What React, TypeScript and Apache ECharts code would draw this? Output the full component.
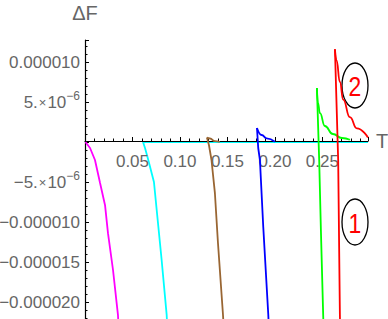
import React, { useEffect, useRef } from "react";
import * as echarts from "echarts";

// ΔF values are in units of 1e-6; each curve = steep branch below the peak + decaying tail
const SCALE = 1e-6;
const magentaDrop: [number, number][] = [[0.0005, 0], [0.0053, -0.75], [0.0105, -2.25], [0.0158, -5.1], [0.0211, -7.9], [0.0242, -11.4], [0.0295, -16], [0.0347, -21.6], [0.0353, -22.9]];
const cyanDrop: [number, number][] = [[0.298, 0], [0.0611, 0], [0.0632, -0.75], [0.0663, -2.1], [0.0726, -5], [0.0755, -8.5], [0.0807, -14.75], [0.086, -21.6], [0.0865, -22.9]];
const brownDrop: [number, number][] = [[0.1459, -22.9], [0.1453, -21.6], [0.14, -12.6], [0.1368, -6.4], [0.1332, -2.25], [0.1305, -0.375], [0.1284, 0.56]];
const brownTail: [number, number][] = [[0.1284, 0.56], [0.1316, 0.44], [0.1368, 0.12], [0.142, 0]];
const blueDrop: [number, number][] = [[0.1935, -22.9], [0.193, -21.6], [0.1877, -10.6], [0.1842, -2.25], [0.1824, -0.75], [0.1811, 1.75]];
const blueTail: [number, number][] = [[0.1811, 1.75], [0.186, 0.875], [0.1913, 0.46], [0.2, 0.04]];
const greenDrop: [number, number][] = [[0.2511, -22.9], [0.2508, -21.6], [0.2484, -11], [0.2466, -2.25], [0.2442, 6.75]];
const greenTail: [number, number][] = [[0.2442, 6.75], [0.2453, 4.9], [0.2474, 3.6], [0.2526, 2.0], [0.261, 1.0], [0.2705, 0.5], [0.279, 0.28]];
const redDrop: [number, number][] = [[0.2686, -22.9], [0.2684, -21.6], [0.2666, -2.25], [0.2632, 11.6]];
const redTail: [number, number][] = [[0.2632, 11.6], [0.2649, 10.2], [0.2684, 7.5], [0.2719, 5.3], [0.2789, 3.1], [0.2863, 1.7], [0.2979, 0.56]];

const MAGENTA = "#ff00ff";
const CYAN = "#00ffff";
const BROWN = "#996633";
const BLUE = "#0000ff";
const GREEN = "#00ff00";
const RED = "#ff0000";

const curves = [
  { data: magentaDrop, color: MAGENTA, z: 3, smooth: false },
  { data: cyanDrop, color: CYAN, z: 1, smooth: false },
  { data: brownDrop, color: BROWN, z: 3, smooth: false },
  { data: brownTail, color: BROWN, z: 3, smooth: true },
  { data: blueDrop, color: BLUE, z: 3, smooth: false },
  { data: blueTail, color: BLUE, z: 3, smooth: true },
  { data: greenDrop, color: GREEN, z: 3, smooth: false },
  { data: greenTail, color: GREEN, z: 3, smooth: true },
  { data: redDrop, color: RED, z: 3, smooth: false },
  { data: redTail, color: RED, z: 3, smooth: true },
];

const xTickValues = [0.05, 0.1, 0.15, 0.2, 0.25];
const xTickLabels = ["0.05", "0.10", "0.15", "0.20", "0.25"];
const yTickValues = [10, 5, -5, -10, -15, -20];
const yTickLabels = ["0.000010", "5.{x|×}10{sup|−6}", "−5.{x|×}10{sup|−6}", "−0.000010", "−0.000015", "−0.000020"];

const annotationLabels = ["2", "1"];

const FONT = "'Liberation Sans', Arial, sans-serif";
const GRAY = "#666666";

export default function App() {
  const ref = useRef<HTMLDivElement>(null);
  useEffect(() => {
    if (!ref.current) return;
    const chart = echarts.init(ref.current, null, { renderer: "svg" });
    const option: any = {
      animation: false,
      grid: { left: 85, right: 20, top: 40, bottom: -23, containLabel: false, outerBoundsMode: "none" },
      xAxis: {
        type: "value",
        min: 0,
        max: 0.298,
        interval: 0.05,
        z: 2,
        offset: -201,
        name: "T",
        nameLocation: "end",
        nameGap: 8,
        nameTextStyle: { fontFamily: FONT, fontSize: 20, color: GRAY },
        axisLine: { onZero: false, lineStyle: { color: "#000", width: 1.2 } },
        axisTick: { inside: true, length: 4, lineStyle: { color: "#000" } },
        minorTick: { show: true, splitNumber: 5, length: 2.5, lineStyle: { color: "#000" } },
        splitLine: { show: false },
        axisLabel: {
          showMinLabel: false,
          showMaxLabel: false,
          margin: 12,
          fontFamily: FONT,
          fontSize: 17,
          color: GRAY,
          formatter: (v: number) => {
            const i = xTickValues.findIndex((t) => Math.abs(t - v) < 1e-6);
            return i >= 0 ? xTickLabels[i] : "";
          },
        },
      },
      yAxis: {
        type: "value",
        min: -25e-6,
        max: 12.75e-6,
        interval: 5e-6,
        name: "ΔF",
        nameLocation: "end",
        nameGap: 17,
        nameTextStyle: { fontFamily: FONT, fontSize: 20, color: GRAY, align: "center" },
        axisLine: { lineStyle: { color: "#000", width: 1.2 } },
        axisTick: { inside: true, length: 4, lineStyle: { color: "#000" } },
        minorTick: { show: true, splitNumber: 5, length: 2.5, lineStyle: { color: "#000" } },
        splitLine: { show: false },
        axisLabel: {
          showMaxLabel: false,
          margin: 5,
          fontFamily: FONT,
          fontSize: 17,
          color: GRAY,
          formatter: (v: number) => {
            const k = Math.round(v / SCALE);
            const i = yTickValues.indexOf(k);
            return i >= 0 ? yTickLabels[i] : "";
          },
          rich: {
            x: { fontFamily: FONT, fontSize: 13, color: GRAY, padding: [0, 1, 0, 1] },
            sup: { fontFamily: FONT, fontSize: 12, color: GRAY, padding: [0, 0, 13, 0] },
          },
        },
      },
      series: curves.map((c) => ({
        type: "line",
        data: c.data.map(([t, f]) => [t, f * SCALE]),
        showSymbol: false,
        symbol: "none",
        z: c.z,
        smooth: c.smooth ? 0.5 : false,
        smoothMonotone: "x",
        lineStyle: { color: c.color, width: 1.8 },
      })),
      graphic: [
        { type: "ellipse", shape: { cx: 355, cy: 85.5, rx: 13, ry: 22.5 }, style: { fill: "none", stroke: "#000", lineWidth: 1.3 } },
        { type: "text", x: 355, y: 86, scaleX: 0.85, style: { text: annotationLabels[0], fill: "#ff0000", font: `27px ${FONT}`, align: "center", verticalAlign: "middle" } },
        { type: "ellipse", shape: { cx: 355, cy: 222, rx: 13, ry: 23 }, style: { fill: "none", stroke: "#000", lineWidth: 1.3 } },
        { type: "text", x: 355, y: 223, scaleX: 0.85, style: { text: annotationLabels[1], fill: "#ff0000", font: `27px ${FONT}`, align: "center", verticalAlign: "middle" } },
      ],
    };
    chart.setOption(option);
    return () => chart.dispose();
  }, []);
  return <div ref={ref} style={{ position: "absolute", left: 0, top: 0, width: 388, height: 319 }} />;
}
